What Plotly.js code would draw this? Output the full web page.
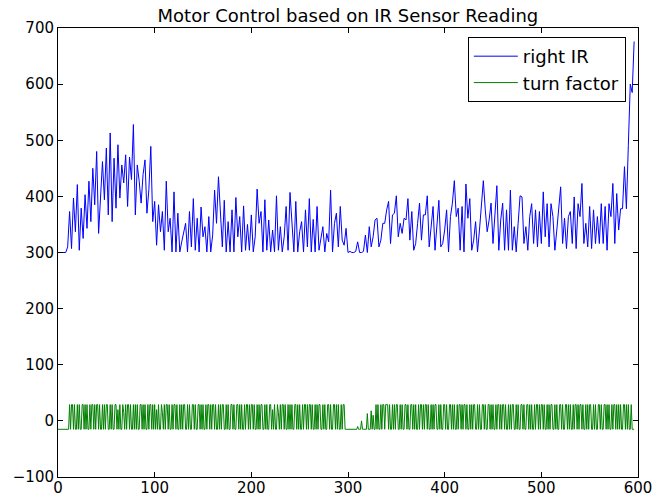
<!DOCTYPE html>
<html>
<head>
<meta charset="utf-8">
<script src="https://cdn.plot.ly/plotly-3.0.1.min.js"></script>
<style>html,body{margin:0;padding:0;background:#fff;}#chart{width:654px;height:498px;}</style>
</head>
<body>
<div id="chart"></div>
<script>
// right IR: one value every 2 readings (x0 = 0, dx = 2)
const rightIR = [
  300,300,300,300,300,310,373,307,397,337,
  421,304,379,325,403,343,427,355,450,385,
  480,334,409,462,394,486,367,513,355,468,
  379,492,397,456,424,474,382,470,430,528,
  367,456,427,388,439,465,370,412,489,355,
  391,313,385,337,373,304,427,337,361,301,
  408,301,370,301,319,337,352,301,373,310,
  396,304,361,301,381,328,346,301,364,301,
  331,411,352,435,370,310,393,301,355,301,
  376,301,398,328,364,301,383,304,350,304,
  367,301,328,413,352,373,301,394,304,358,
  301,340,301,401,304,346,301,328,382,304,
  407,350,301,391,301,337,355,301,376,310,
  396,301,359,301,382,304,328,346,301,334,
  319,411,301,352,370,310,382,322,313,343,
  300,302,300,300,302,319,300,300,302,331,
  300,346,310,328,358,361,310,322,352,352,
  376,391,316,367,370,401,328,352,334,361,
  358,396,322,373,304,316,352,388,322,367,
  367,401,310,343,382,304,358,393,310,316,
  340,376,301,364,388,428,364,379,304,382,
  301,422,361,396,304,322,355,301,340,388,
  428,376,337,358,388,316,367,419,304,358,
  388,304,376,304,411,304,346,301,352,401,
  399,316,346,304,364,387,316,376,310,373,
  316,408,328,387,310,387,364,304,340,382,
  417,316,361,307,364,373,316,399,307,387,
  364,423,316,352,310,382,307,376,316,364,
  316,387,316,382,304,387,364,423,316,405,
  340,378,378,453,378,491,600,585,676
];
// turn factor: one value per reading (x0 = 0, dx = 1)
const turnFactor = [
  -15,-15,-15,-15,-15,-15,-15,-15,-15,-15,-15,-15,29,-15,29,29,-15,29,-15,-15,
  29,-15,29,-15,-15,29,29,-15,29,-15,29,-15,-15,29,-15,29,29,-15,29,-15,
  29,29,-15,29,-15,-15,29,-15,29,-15,29,29,-15,-15,29,-15,29,-15,-15,29,
  29,-15,20,-15,29,-15,-15,29,15,-15,29,-15,29,29,-15,29,-15,-15,29,-15,
  29,-15,29,-15,-15,29,29,-15,29,-15,29,-15,-15,29,-15,29,29,-15,29,-15,
  29,-15,20,-15,29,-15,-15,29,15,-15,29,-15,29,29,-15,29,-15,-15,29,-15,
  29,29,-15,29,-15,-15,29,-15,29,-15,29,29,-15,-15,29,-15,29,-15,-15,29,
  29,-15,29,-15,-15,29,29,-15,29,-15,29,-15,-15,29,-15,29,29,-15,29,-15,
  29,29,-15,29,-15,-15,29,-15,29,-15,29,29,-15,-15,29,-15,29,-15,-15,29,
  29,-15,29,-15,-15,29,29,-15,29,-15,29,-15,-15,29,-15,29,29,-15,29,-15,
  29,29,-15,29,-15,-15,29,-15,29,-15,29,29,-15,-15,29,-15,29,-15,-15,29,
  29,-15,20,-15,29,-15,-15,29,15,-15,29,-15,29,29,-15,29,-15,-15,29,-15,
  29,-15,29,-15,-15,29,29,-15,29,-15,29,-15,-15,29,-15,29,29,-15,29,-15,
  29,29,-15,29,-15,-15,29,-15,29,-15,29,29,-15,-15,29,-15,29,-15,-15,29,
  29,-15,29,-15,-15,29,29,-15,29,-15,29,-15,-15,29,-15,29,29,-15,-15,-15,
  -15,-15,-15,-15,-15,-15,-15,-15,-15,-15,-10,-15,-15,-15,0,-15,-15,-15,-15,-15,
  13,-15,-15,-15,18,-15,10,-15,-15,29,-15,29,-15,-15,29,-15,29,29,-15,29,
  29,29,-15,29,-15,-15,29,-15,29,-15,29,29,-15,-15,29,-15,29,-15,-15,29,
  29,-15,29,-15,-15,29,29,-15,29,-15,29,-15,-15,29,-15,29,29,-15,29,-15,
  29,29,-15,29,-15,-15,29,-15,29,-15,29,29,-15,-15,29,-15,29,-15,-15,29,
  29,-15,29,-15,-15,29,29,-15,29,-15,29,-15,-15,29,-15,29,29,-15,29,-15,
  29,29,-15,29,-15,-15,29,-15,29,-15,29,29,-15,-15,29,-15,29,-15,-15,29,
  29,-15,29,-15,-15,29,29,-15,29,-15,29,-15,-15,29,-15,29,29,-15,29,-15,
  29,29,-15,29,-15,-15,29,-15,29,-15,29,29,-15,-15,29,-15,29,-15,-15,29,
  29,-15,29,-15,-15,29,29,-15,29,-15,29,-15,-15,29,-15,29,29,-15,29,-15,
  29,29,-15,29,-15,-15,29,-15,29,-15,29,29,-15,-15,29,-15,29,-15,-15,29,
  29,-15,29,-15,-15,29,29,-15,29,-15,29,-15,-15,29,-15,29,29,-15,29,-15,
  29,29,-15,29,-15,-15,29,-15,29,-15,29,29,-15,-15,29,-15,29,-15,-15,29,
  29,-15,29,-15,-15,29,29,-15,29,-15,29,-15,-15,29,-15,29,29,-15,29,-15,
  29,-15,29,-15,-15,29,29,-15,29,-15,29,-15,-15,29,-15,-15,-15
];
const xTicks = [0,100,200,300,400,500,600];
const yTicks = [-100,0,100,200,300,400,500,600,700];
const seriesNames = ['right IR','turn factor'];

const font = 'DejaVu Sans, sans-serif';
const traces = [
  {y: rightIR, x0: 0, dx: 2, type: 'scatter', mode: 'lines', name: seriesNames[0],
   line: {color: '#0000ff', width: 1}},
  {y: turnFactor, x0: 0, dx: 1, type: 'scatter', mode: 'lines', name: seriesNames[1],
   line: {color: '#008000', width: 1}}
];
const axisCommon = {
  showgrid: false, zeroline: false, showline: true, linecolor: '#000', linewidth: 1,
  mirror: 'ticks', ticks: 'inside', ticklen: 5, tickcolor: '#000', tickwidth: 1,
  tickfont: {family: font, size: 15, color: '#000'}
};
const layout = {
  width: 654, height: 498,
  margin: {l: 58, r: 16, t: 28, b: 21, pad: 0},
  paper_bgcolor: '#fff', plot_bgcolor: '#fff',
  font: {family: font, color: '#000'},
  title: {text: 'Motor Control based on IR Sensor Reading', font: {family: font, size: 18, color: '#000'},
          x: 0.532, xanchor: 'center', y: 0.969, yanchor: 'middle'},
  xaxis: Object.assign({}, axisCommon, {range: [0, 600], tickvals: xTicks, ticktext: xTicks.map(String),
          ticklabelstandoff: -3}),
  yaxis: Object.assign({}, axisCommon, {range: [-100, 700], tickvals: yTicks,
          ticktext: yTicks.map(v => v < 0 ? '\u2212' + Math.abs(v) : String(v))}),
  showlegend: true,
  legend: {x: 0.979, xanchor: 'right', y: 0.98, yanchor: 'top', bgcolor: '#fff',
           bordercolor: '#000', borderwidth: 1, font: {family: font, size: 18, color: '#000'},
           itemwidth: 44, tracegroupgap: 0}
};
Plotly.newPlot('chart', traces, layout, {staticPlot: true, displayModeBar: false});
</script>
</body>
</html>
